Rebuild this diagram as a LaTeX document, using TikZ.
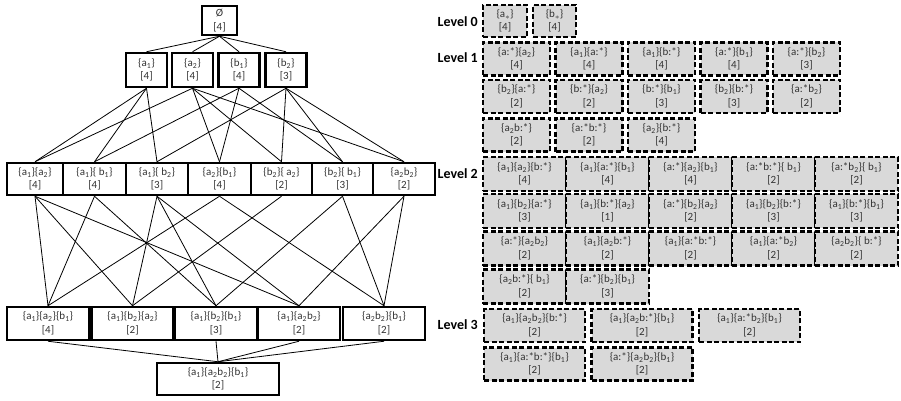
\documentclass[tikz,border=0pt]{standalone}
\usepackage{fontspec}
\setmainfont{Carlito}
\newcommand\sbx[1]{\textsubscript{#1}}
\begin{document}
\begin{tikzpicture}[x=1pt,y=-1pt,
  lat/.style={draw=black, line width=2.5pt, inner sep=0pt, align=center,
    font=\fontsize{11}{13.5}\selectfont, text=black!80},
  dbox/.style={draw=black, fill=black!15, line width=2.2pt, dash pattern=on 5pt off 2.5pt,
    inner sep=0pt, align=center, font=\fontsize{11}{13.5}\selectfont, text=black!80},
  edge/.style={draw=black, line width=0.8pt},
  lvl/.style={anchor=east, font=\fontsize{14}{15}\selectfont\bfseries, inner sep=0pt}]
\useasboundingbox (0,0) rectangle (901,401);
% ---------- lattice ----------
\node[lat, minimum width=35pt, minimum height=29pt] (e) at (219.5,20.5) {Ø\\{[4]}};
\begin{scope}[every node/.append style={minimum width=41pt, minimum height=34pt}]
\node[lat] (a1) at (146.5,70) {\{a\sbx1\}\\{[4]}};
\node[lat] (a2) at (192.5,70) {\{a\sbx2\}\\{[4]}};
\node[lat] (b1) at (239,70) {\{b\sbx1\}\\{[4]}};
\node[lat] (b2) at (286,70) {\{b\sbx2\}\\{[3]}};
\end{scope}
\begin{scope}[every node/.append style={minimum height=32pt}]
\node[lat, minimum width=56pt] (a1a2) at (35,179) {\{a\sbx1\}\{a\sbx2\}\\{[4]}};
\node[lat, minimum width=63pt] (a1b1) at (94.5,179) {\{a\sbx1\}\{ b\sbx1\}\\{[4]}};
\node[lat, minimum width=62pt] (a1b2) at (157,179) {\{a\sbx1\}\{ b\sbx2\}\\{[3]}};
\node[lat, minimum width=63pt] (a2b1) at (219.5,179) {\{a\sbx2\}\{b\sbx1\}\\{[4]}};
\node[lat, minimum width=61pt] (b2a2) at (281.5,179) {\{b\sbx2\}\{ a\sbx2\}\\{[2]}};
\node[lat, minimum width=61pt] (b2b1) at (342.5,179) {\{b\sbx2\}\{ b\sbx1\}\\{[3]}};
\node[lat, minimum width=62pt] (ab22) at (404,179) {\{a\sbx2b\sbx2\}\\{[2]}};
\end{scope}
\begin{scope}[every node/.append style={minimum width=82pt, minimum height=33pt}]
\node[lat] (t1) at (48,323.5) {\{a\sbx1\}\{a\sbx2\}\{b\sbx1\}\\{[4]}};
\node[lat] (t2) at (132.5,323.5) {\{a\sbx1\}\{b\sbx2\}\{a\sbx2\}\\{[2]}};
\node[lat] (t3) at (216,323.5) {\{a\sbx1\}\{b\sbx2\}\{b\sbx1\}\\{[3]}};
\node[lat] (t4) at (299,323.5) {\{a\sbx1\}\{a\sbx2b\sbx2\}\\{[2]}};
\node[lat] (t5) at (384,323.5) {\{a\sbx2b\sbx2\}\{b\sbx1\}\\{[2]}};
\end{scope}
\node[lat, minimum width=122pt, minimum height=32pt] (bot) at (218,379) {\{a\sbx1\}\{a\sbx2b\sbx2\}\{b\sbx1\}\\{[2]}};
% edges
\foreach \n in {a1,a2,b1,b2} \draw[edge] (e.south) -- (\n.north);
\foreach \u/\l in {a1/a1a2,a1/a1b1,a1/a1b2,a2/a1a2,a2/a2b1,a2/b2a2,a2/ab22,
  b1/a1b1,b1/a2b1,b1/b2b1,b2/a1b2,b2/b2a2,b2/b2b1,b2/ab22}
  \draw[edge] (\u.south) -- (\l.north);
\foreach \u/\l in {a1a2/t1,a1a2/t2,a1a2/t4,a1b1/t1,a1b1/t3,a1b2/t2,a1b2/t3,a1b2/t4,
  a2b1/t1,a2b1/t5,b2a2/t2,b2b1/t3,b2b1/t5,ab22/t4,ab22/t5}
  \draw[edge] (\u.south) -- (\l.north);
\foreach \u in {t1,t3,t4,t5} \draw[edge] (\u.south) -- (bot.north);
% ---------- levels ----------
\node[lvl] (L0) at (478,22) {Level 0};
\node[lvl] (L1) at (478,58) {Level 1};
\node[lvl] (L2) at (478,174) {Level 2};
\node[lvl] (L3) at (478,325) {Level 3};
% level 0
\node[dbox, minimum width=44pt, minimum height=32pt] (z1) at (505,21) {\{a$_{*}$\}\\{[4]}};
\node[dbox, minimum width=43pt, minimum height=32pt] (z2) at (554.5,21) {\{b$_{*}$\}\\{[4]}};
% level 1
\begin{scope}[every node/.append style={minimum width=67pt, minimum height=33pt}]
\node[dbox] (p11) at (516.5,59) {\{a:*\}\{a\sbx2\}\\{[4]}};
\node[dbox] (p12) at (589,59) {\{a\sbx1\}\{a:*\}\\{[4]}};
\node[dbox] (p13) at (661.5,59) {\{a\sbx1\}\{b:*\}\\{[4]}};
\node[dbox] (p14) at (734,59) {\{a:*\}\{b\sbx1\}\\{[4]}};
\node[dbox] (p15) at (806.5,59) {\{a:*\}\{b\sbx2\}\\{[3]}};
\node[dbox] (p21) at (516.5,96.5) {\{b\sbx2\}\{a:*\}\\{[2]}};
\node[dbox] (p22) at (589,96.5) {\{b:*\}\{a\sbx2\}\\{[2]}};
\node[dbox] (p23) at (661.5,96.5) {\{b:*\}\{b\sbx1\}\\{[3]}};
\node[dbox] (p24) at (734,96.5) {\{b\sbx2\}\{b:*\}\\{[3]}};
\node[dbox] (p25) at (806.5,96.5) {\{a:*b\sbx2\}\\{[2]}};
\node[dbox] (p31) at (516.5,135) {\{a\sbx2b:*\}\\{[2]}};
\node[dbox] (p32) at (589,135) {\{a:*b:*\}\\{[2]}};
\node[dbox] (p33) at (661.5,135) {\{a\sbx2\}\{b:*\}\\{[4]}};
\end{scope}
% level 2
\begin{scope}[every node/.append style={minimum width=83pt, minimum height=34pt}]
\node[dbox] (q11) at (524.5,174) {\{a\sbx1\}\{a\sbx2\}\{b:*\}\\{[4]}};
\node[dbox] (q12) at (607.5,174) {\{a\sbx1\}\{a:*\}\{b\sbx1\}\\{[4]}};
\node[dbox] (q13) at (690.5,174) {\{a:*\}\{a\sbx2\}\{b\sbx1\}\\{[4]}};
\node[dbox] (q14) at (773.5,174) {\{a:*b:*\}\{ b\sbx1\}\\{[2]}};
\node[dbox] (q15) at (856.5,174) {\{a:*b\sbx2\}\{ b\sbx1\}\\{[2]}};
\node[dbox] (q21) at (524.5,211) {\{a\sbx1\}\{b\sbx2\}\{a:*\}\\{[3]}};
\node[dbox] (q22) at (607.5,211) {\{a\sbx1\}\{b:*\}\{a\sbx2\}\\{[1]}};
\node[dbox] (q23) at (690.5,211) {\{a:*\}\{b\sbx2\}\{a\sbx2\}\\{[2]}};
\node[dbox] (q24) at (773.5,211) {\{a\sbx1\}\{b\sbx2\}\{b:*\}\\{[3]}};
\node[dbox] (q25) at (856.5,211) {\{a\sbx1\}\{b:*\}\{b\sbx1\}\\{[3]}};
\node[dbox] (q31) at (524.5,248.5) {\{a:*\}\{a\sbx2b\sbx2\}\\{[2]}};
\node[dbox] (q32) at (607.5,248.5) {\{a\sbx1\}\{a\sbx2b:*\}\\{[2]}};
\node[dbox] (q33) at (690.5,248.5) {\{a\sbx1\}\{a:*b:*\}\\{[2]}};
\node[dbox] (q34) at (773.5,248.5) {\{a\sbx1\}\{a:*b\sbx2\}\\{[2]}};
\node[dbox] (q35) at (856.5,248.5) {\{a\sbx2b\sbx2\}\{ b:*\}\\{[2]}};
\node[dbox] (q41) at (524.5,286.5) {\{a\sbx2b:*\}\{ b\sbx1\}\\{[2]}};
\node[dbox] (q42) at (607.5,286.5) {\{a:*\}\{b\sbx2\}\{b\sbx1\}\\{[3]}};
\end{scope}
% level 3
\begin{scope}[every node/.append style={minimum width=101pt, minimum height=33pt}]
\node[dbox] (r11) at (534.5,325.5) {\{a\sbx1\}\{a\sbx2b\sbx2\}\{b:*\}\\{[2]}};
\node[dbox] (r12) at (642,325.5) {\{a\sbx1\}\{a\sbx2b:*\}\{b\sbx1\}\\{[2]}};
\node[dbox] (r13) at (749.5,325.5) {\{a\sbx1\}\{a:*b\sbx2\}\{b\sbx1\}\\{[2]}};
\node[dbox] (r21) at (534.5,364) {\{a\sbx1\}\{a:*b:*\}\{b\sbx1\}\\{[2]}};
\node[dbox] (r22) at (642,364) {\{a:*\}\{a\sbx2b\sbx2\}\{b\sbx1\}\\{[2]}};
\end{scope}
\end{tikzpicture}
\end{document}
